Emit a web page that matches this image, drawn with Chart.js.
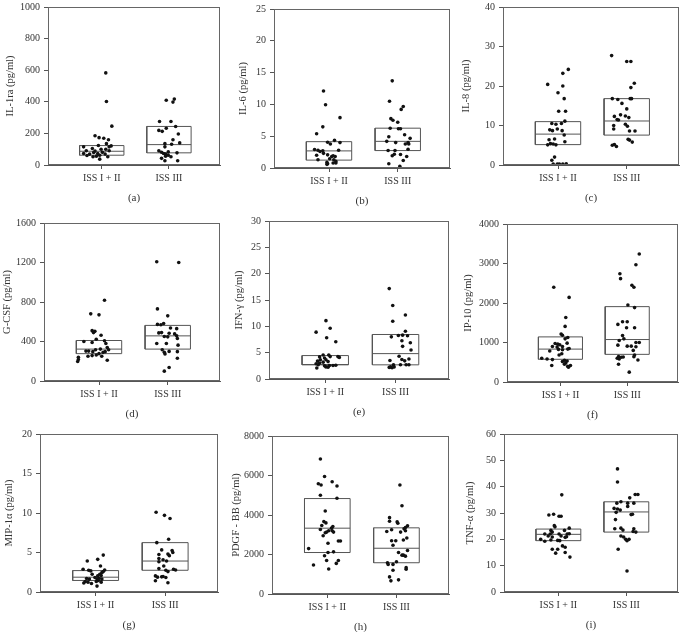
<!DOCTYPE html>
<html><head><meta charset="utf-8">
<script src="https://cdn.jsdelivr.net/npm/chart.js@4/dist/chart.umd.min.js"></script>
<style>html,body{margin:0;padding:0;background:#fff;width:683px;height:632px;overflow:hidden;position:relative}canvas{position:absolute}</style>
</head><body>
<script>
// ---------- data ----------
const categories = ['ISS I + II', 'ISS III'];
const panelLetters = ['(a)','(b)','(c)','(d)','(e)','(f)','(g)','(h)','(i)'];
const yTitles = ['IL-1ra (pg/ml)','IL-6 (pg/ml)','IL-8 (pg/ml)','G-CSF (pg/ml)','IFN-γ (pg/ml)','IP-10 (pg/ml)','MIP-1α (pg/ml)','PDGF - BB (pg/ml)','TNF-α (pg/ml)'];
const yMax = [1000,25,40,1600,30,4000,20,8000,60];
const yStep = [200,5,10,400,5,1000,5,2000,10];

// box statistics: [q1, median, q3] for [ISS I + II, ISS III]
const il1raBox = [[62,87,123],[77,129,244]];
const il6Box   = [[1.24,2.69,4.14],[2.74,4.19,6.26]];
const il8Box   = [[5.16,7.82,10.98],[7.57,11.14,16.8]];
const gcsfBox  = [[277,323,410],[323,457,563]];
const ifngBox  = [[2.69,2.75,4.45],[2.69,4.82,8.45]];
const ip10Box  = [[575,833,1142],[700,1075,1908]];
const mip1aBox = [[1.46,1.875,2.71],[2.75,3.92,6.25]];
const pdgfBox  = [[2100,3333,4833],[1583,2317,3350]];
const tnfaBox  = [[19.5,21.9,23.9],[22.75,30.4,34.25]];

// individual values: [jitter, value]
const il1raI = [[0.06,583],[0.07,402],[0.15,246],[-0.10,185],[-0.04,173],[0.03,169],[0.10,160],[0.07,135],[-0.05,123],[0.14,121],[-0.27,115],[-0.14,104],[-0.01,100],[0.06,100],[-0.23,90],[0.11,90],[-0.12,79],[-0.06,73],[-0.27,73],[-0.18,69],[-0.03,62],[-0.08,56],[0.05,69],[-0.13,52],[-0.22,60],[0.09,52],[-0.03,37],[0.01,80],[-0.10,88],[0.11,115]];
const il1raIII = [[-0.04,410],[0.08,417],[0.06,398],[-0.14,275],[0.03,275],[0.10,244],[-0.04,233],[-0.15,219],[-0.10,213],[0.14,196],[0.06,160],[0.16,140],[-0.06,135],[0.04,131],[-0.06,115],[-0.15,90],[-0.11,81],[0.12,77],[-0.01,83],[-0.08,73],[-0.05,69],[0.03,52],[-0.05,56],[-0.11,42],[-0.06,27],[0.13,27],[-0.01,62]];
const il6I = [[-0.08,12.1],[-0.05,9.94],[0.16,7.92],[-0.09,6.47],[-0.18,5.38],[0.08,4.35],[-0.02,4.04],[0.02,3.78],[0.16,3.99],[-0.21,2.9],[-0.16,2.8],[-0.13,2.6],[-0.09,2.7],[0.14,2.8],[-0.08,2.3],[-0.02,2.07],[0.04,1.81],[0.06,1.92],[0.09,1.81],[0.01,1.45],[-0.16,1.29],[0.07,1.29],[0.10,1.04],[-0.03,0.88],[0.06,0.78],[-0.02,0.67],[-0.03,0.57],[0.10,0.78],[-0.18,2.0]];
const il6III = [[-0.08,13.7],[-0.12,10.5],[0.08,9.68],[0.05,9.21],[-0.10,7.76],[-0.07,7.5],[0,7.19],[-0.11,6.26],[0.01,6.16],[0.04,6.16],[0.10,5.23],[-0.13,4.92],[0.18,4.66],[-0.16,4.19],[-0.03,3.99],[0.11,3.78],[0.15,3.99],[0.16,3.78],[-0.14,2.74],[-0.04,2.74],[0.15,2.95],[-0.05,2.17],[0.04,2.12],[-0.08,1.92],[0.13,1.81],[0.08,1.19],[-0.13,0.67],[0.03,0.26]];
const il8I = [[0.15,24.2],[0.07,23.2],[-0.15,20.4],[0.07,20.0],[0,18.3],[0.09,16.8],[0.01,13.6],[0.11,13.6],[0.10,11.1],[-0.09,10.5],[-0.03,10.3],[0.05,10.5],[-0.12,8.9],[-0.08,8.7],[-0.01,9.1],[0.06,8.7],[0.09,7.6],[-0.13,6.4],[-0.05,6.6],[0.10,5.9],[-0.11,5.4],[-0.07,5.3],[-0.03,5.1],[-0.15,5.1],[-0.05,2.0],[-0.09,1.2],[-0.07,0.25],[-0.01,0.25],[0.02,0.25],[0.07,0.25],[0.12,0.33]];
const il8III = [[-0.22,27.7],[0,26.2],[0.06,26.2],[0.11,20.7],[0.06,19.6],[-0.21,16.8],[-0.13,16.6],[0.05,16.8],[0.07,16.8],[-0.07,15.6],[0,14.2],[-0.18,12.3],[-0.09,12.7],[-0.02,12.4],[0.03,12.0],[-0.14,11.5],[-0.12,11.4],[-0.19,10.0],[-0.19,9.1],[-0.02,10.3],[0.01,9.8],[0.04,8.6],[0.12,8.6],[0.02,6.5],[0.04,6.3],[0.08,5.8],[-0.18,5.2],[-0.21,5.0],[-0.15,4.7]];
const gcsfI = [[0.08,817],[-0.12,680],[0,670],[-0.10,510],[-0.06,503],[-0.08,490],[0.03,463],[-0.04,423],[0.08,407],[-0.10,390],[0.10,380],[-0.22,400],[0.12,340],[0.14,317],[-0.19,303],[-0.15,303],[-0.05,317],[0.02,323],[-0.09,297],[0,277],[0.06,290],[0.09,297],[-0.16,250],[-0.10,257],[-0.04,263],[0.04,250],[-0.30,240],[-0.30,217],[-0.31,197],[0.12,210]];
const gcsfIII = [[-0.16,1207],[0.16,1200],[-0.15,730],[0,660],[-0.15,573],[-0.10,570],[-0.06,583],[0.04,537],[0.13,530],[-0.09,490],[0.02,483],[-0.13,487],[0.10,477],[0.13,457],[0.14,430],[-0.05,450],[0,447],[-0.16,380],[-0.02,380],[0.15,363],[-0.08,317],[-0.05,290],[0.02,300],[0.14,297],[-0.04,273],[0.14,230],[0.02,137],[-0.05,100]];
const ifngI = [[0.01,11.08],[-0.13,8.9],[0.07,9.64],[0.02,7.83],[0.15,7.08],[-0.03,4.57],[0.05,4.57],[-0.08,4.2],[-0.01,4.0],[0.07,4.25],[0.18,4.25],[0.20,4.1],[0.01,3.66],[-0.07,3.66],[-0.11,3.4],[0.04,3.3],[-0.03,3.2],[-0.08,3.05],[-0.13,2.9],[-0.10,2.7],[-0.01,2.5],[0.06,2.57],[0.11,2.57],[0.15,2.6],[-0.12,2.1],[0.01,2.3],[0.04,2.25]];
const ifngIII = [[-0.09,17.16],[-0.04,13.96],[0.14,12.15],[-0.04,10.96],[0.14,9.08],[-0.06,8.0],[0.04,8.27],[0.10,8.33],[0.17,8.2],[0.09,7.26],[0.21,6.89],[0.10,6.2],[0.22,5.5],[0.05,4.32],[0.09,3.7],[0.19,3.8],[-0.08,3.5],[0.13,3.45],[-0.03,2.7],[0.07,2.7],[0.15,2.7],[0.19,2.7],[-0.07,2.3],[-0.05,2.13],[-0.02,2.3],[-0.09,2.2]];
const ip10I = [[-0.10,2400],[0.13,2142],[0.08,1633],[0.07,1408],[0.01,1217],[0.03,1183],[0.11,1125],[0.07,1092],[-0.08,975],[-0.04,958],[-0.01,942],[0.10,983],[0.03,900],[-0.12,900],[-0.05,883],[-0.16,783],[-0.03,825],[0.03,817],[0.11,833],[0.13,850],[0.02,717],[-0.02,683],[-0.28,600],[-0.12,567],[-0.20,583],[0.06,550],[0.10,533],[0.03,517],[0.08,483],[0.06,450],[-0.13,417],[0.11,400],[0.15,417],[0.12,375]];
const ip10III = [[0.18,3242],[0.13,2967],[-0.11,2742],[-0.10,2617],[0.07,2450],[0.10,2400],[0.01,1950],[0.11,1883],[-0.07,1525],[0,1525],[-0.14,1458],[-0.01,1375],[0.11,1375],[-0.07,1175],[-0.05,1092],[-0.12,1050],[0.13,1000],[0.18,1000],[-0.14,933],[0,908],[0.06,908],[0.13,892],[0.09,800],[0.11,683],[0.10,642],[-0.13,642],[-0.09,625],[-0.06,633],[-0.15,600],[-0.12,583],[0.16,558],[-0.13,450],[0.03,250]];
const mip1aI = [[0.11,4.67],[0.03,4.13],[-0.12,3.92],[0.07,3.29],[-0.18,2.88],[-0.10,2.75],[-0.07,2.67],[0.13,2.79],[0.11,2.58],[0.09,2.46],[-0.05,2.25],[0.03,2.04],[0.06,2.25],[0.08,2.08],[-0.01,1.83],[-0.13,1.71],[-0.09,1.63],[0.05,1.75],[0.09,1.63],[0.02,1.63],[0.04,1.46],[-0.15,1.33],[-0.11,1.25],[-0.06,1.08],[-0.17,1.13],[0.08,1.25],[0.01,1.33],[0.02,0.75]];
const mip1aIII = [[-0.13,10.1],[-0.01,9.7],[0.07,9.3],[-0.12,6.25],[0.05,6.67],[-0.05,5.33],[0.10,5.25],[0.11,5.0],[0.04,4.8],[0.06,4.6],[-0.09,4.75],[-0.09,4.25],[-0.03,4.08],[-0.09,3.83],[0.02,3.92],[-0.02,3.29],[-0.09,2.96],[0.12,2.88],[0.15,2.79],[0.01,2.75],[0.04,2.58],[-0.14,2.04],[-0.11,1.88],[-0.05,1.92],[-0.03,1.96],[0.01,1.83],[-0.14,1.42],[0.04,1.17]];
const pdgfI = [[-0.10,6833],[-0.04,5950],[-0.13,5583],[-0.09,5517],[0.07,5683],[0.14,5467],[-0.10,5000],[0.14,4850],[-0.03,4200],[-0.05,3667],[-0.02,3600],[0.08,3417],[0.06,3333],[-0.08,3467],[-0.10,3267],[0.02,3200],[0.07,3200],[0.09,3133],[-0.01,3133],[-0.03,3100],[-0.06,2950],[0.16,2683],[0.19,2683],[0.01,2567],[-0.27,2300],[0.01,2100],[0.09,2133],[-0.04,1933],[-0.01,1700],[0.16,1700],[0.13,1550],[-0.20,1467],[0.02,1267]];
const pdgfIII = [[0.05,5517],[0.08,4467],[-0.10,3867],[-0.10,3683],[0.01,3650],[0.02,3583],[-0.14,3167],[-0.07,3250],[0.16,3450],[0.13,3367],[0.11,3300],[0.06,3133],[0.13,3200],[-0.07,2700],[-0.01,2700],[0.10,2733],[-0.05,2467],[0.15,2833],[0.03,2100],[0.10,1967],[0.13,1917],[0.08,1967],[0.16,2200],[-0.13,1583],[-0.12,1500],[-0.05,1500],[0,1633],[0.14,1333],[0.14,1250],[-0.05,1200],[-0.10,867],[-0.08,667],[0.03,717]];
const tnfaI = [[0.05,36.9],[-0.14,29.25],[-0.07,29.5],[0.01,28.75],[0.04,28.75],[0.16,24.25],[-0.06,25.2],[-0.05,24.75],[-0.11,23.4],[-0.09,22.75],[0.09,23.4],[-0.20,22],[-0.12,22],[0.01,22],[0.13,22],[0.16,22.1],[-0.15,21.25],[-0.09,20.9],[0.04,21.25],[0.10,20.75],[0.12,21],[-0.26,20],[-0.11,19.75],[-0.01,19.6],[0.02,19.5],[-0.20,19.25],[0.06,17.5],[0.10,17],[-0.01,16.25],[-0.09,16.25],[0.10,15],[-0.04,14.75],[0.17,13.25]];
const tnfaIII = [[-0.13,46.75],[-0.13,41.75],[0.05,35.75],[0.13,37],[0.17,37],[-0.14,33.75],[-0.08,34.25],[0.02,33.75],[0.11,33.75],[0.02,32.5],[-0.18,31.75],[-0.13,31.5],[-0.09,31.1],[-0.15,30.25],[0.07,29.4],[0.09,29.5],[-0.16,27.5],[-0.17,24],[-0.08,24.25],[-0.05,23.5],[0.11,24],[0.14,22.75],[0.10,23],[-0.08,21.25],[-0.04,20.9],[-0.01,20],[0.04,20],[0.01,19.5],[-0.12,16.25],[0.01,8]];

const boxes = [il1raBox, il6Box, il8Box, gcsfBox, ifngBox, ip10Box, mip1aBox, pdgfBox, tnfaBox];
const groupsI = [il1raI, il6I, il8I, gcsfI, ifngI, ip10I, mip1aI, pdgfI, tnfaI];
const groupsIII = [il1raIII, il6III, il8III, gcsfIII, ifngIII, ip10III, mip1aIII, pdgfIII, tnfaIII];

// ---------- layout (plot area rectangles: left, top, right, bottom; y-axis band width) ----------
const plotRects = [
  [48,5,220,165,48],[274,7,450,168,41],[503,5,679,165,47],
  [44,221,220,381,47],[269,219,449,379,40],[507,222,678,382,49],
  [40,432,218,592,41],[272,434,449,594,46],[504,432,678,592,44]
];
const TOPPAD = 8, RIGHTPAD = 4, XH = 44, HW = 0.33;
const SERIF = "'Liberation Serif','DejaVu Serif',serif";
const TXT = '#333';
const LINE = '#555';

const framePlugin = {
  id: 'frame',
  afterDraw(chart) {
    const {ctx, chartArea: a} = chart;
    ctx.save();
    ctx.strokeStyle = '#666';
    ctx.lineWidth = 1;
    ctx.strokeRect(Math.round(a.left) + 0.5, Math.round(a.top) + 0.5, Math.round(a.right - a.left) - 1, Math.round(a.bottom - a.top) - 1);
    ctx.restore();
  }
};

function boxOutline(c, s) {
  return [{x:c-HW,y:s[0]},{x:c+HW,y:s[0]},{x:c+HW,y:s[2]},{x:c-HW,y:s[2]},{x:c-HW,y:s[0]}];
}
function medianLine(c, s) {
  return [{x:c-HW,y:s[1]},{x:c+HW,y:s[1]}];
}
function pts(c, arr) { return arr.map(p => ({x: c + p[0], y: p[1]})); }

for (let i = 0; i < 9; i++) {
  const [l, t, r, b, yw] = plotRects[i];
  const cv = document.createElement('canvas');
  const w = yw + (r - l) + RIGHTPAD;
  const h = TOPPAD + (b - t) + XH;
  cv.width = w; cv.height = h;
  cv.style.left = (l - yw) + 'px';
  cv.style.top = (t - TOPPAD) + 'px';
  cv.style.width = w + 'px'; cv.style.height = h + 'px';
  document.body.appendChild(cv);

  const bx = boxes[i];
  const dotStyle = {type:'scatter', pointRadius:1.8, pointBackgroundColor:'#111', pointBorderWidth:0, showLine:false};
  const lineStyle = {type:'scatter', showLine:true, pointRadius:0, borderColor:LINE, borderWidth:1, fill:false, tension:0};

  new Chart(cv, {
    type: 'scatter',
    data: {
      datasets: [
        Object.assign({data: pts(1, groupsI[i])}, dotStyle),
        Object.assign({data: pts(2, groupsIII[i])}, dotStyle),
        Object.assign({data: boxOutline(1, bx[0])}, lineStyle),
        Object.assign({data: medianLine(1, bx[0])}, lineStyle),
        Object.assign({data: boxOutline(2, bx[1])}, lineStyle),
        Object.assign({data: medianLine(2, bx[1])}, lineStyle)
      ]
    },
    options: {
      responsive: false,
      animation: false,
      events: [],
      layout: {padding: {top: TOPPAD, right: RIGHTPAD, left: 0, bottom: 0}},
      plugins: {legend: {display: false}, tooltip: {enabled: false}},
      scales: {
        x: {
          type: 'linear', min: 0.2, max: 2.76,
          afterBuildTicks: s => { s.ticks = categories.map((c, k) => ({value: k + 1})); },
          afterFit: s => { s.height = XH; },
          ticks: {callback: v => categories[v - 1], font: {family: SERIF, size: 10}, color: TXT, padding: 3, maxRotation: 0, autoSkip: false},
          grid: {drawOnChartArea: false, tickLength: 4, color: LINE},
          border: {color: LINE},
          title: {display: true, text: panelLetters[i], font: {family: SERIF, size: 11}, color: TXT, padding: {top: 0, bottom: 4}}
        },
        y: {
          min: 0, max: yMax[i],
          afterFit: s => { s.width = yw; },
          ticks: {stepSize: yStep[i], callback: v => String(v), font: {family: SERIF, size: 10}, color: TXT, padding: 4},
          grid: {drawOnChartArea: false, tickLength: 4, color: LINE},
          border: {color: LINE},
          title: {display: true, text: yTitles[i], font: {family: SERIF, size: 10.5}, color: TXT, padding: {top: 4, bottom: 0}}
        }
      }
    },
    plugins: [framePlugin]
  });
}
</script>
</body></html>
